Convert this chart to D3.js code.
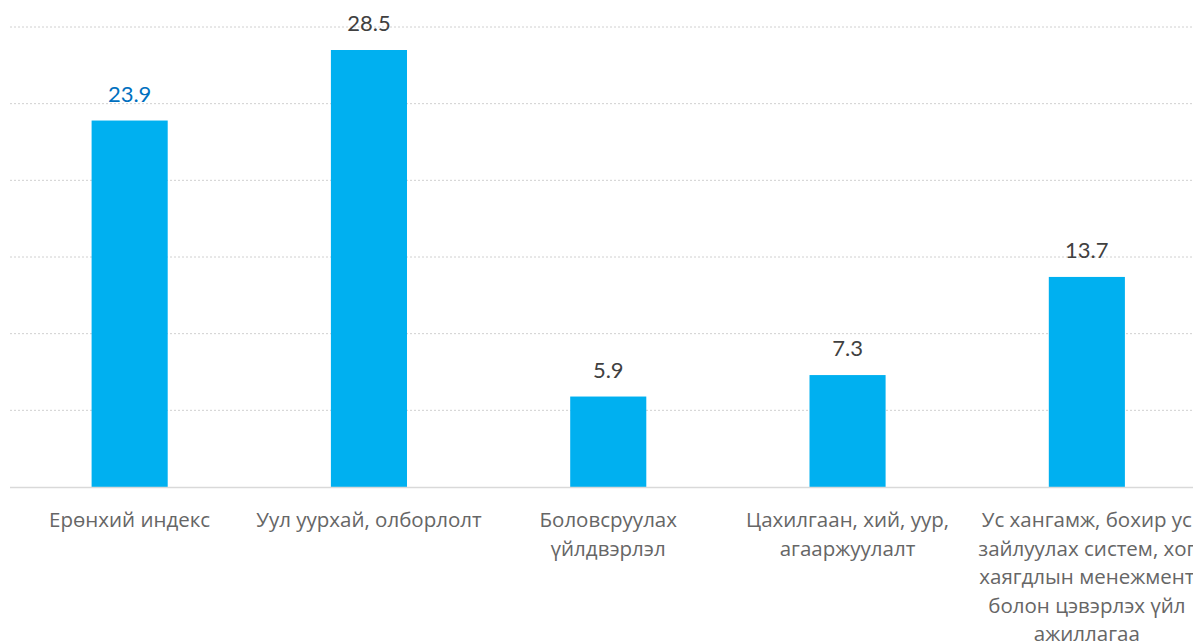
<!DOCTYPE html>
<html>
<head>
<meta charset="utf-8">
<script src="https://cdn.jsdelivr.net/npm/d3@7"></script>
<style>
    body { margin: 0; background: #fff; }
    svg { display: block; overflow: hidden; }
</style>
</head>
<body>
<div id="vis"></div>
<script>
'use strict';

// Chart data
const categories = ["Ерөнхий индекс", "Уул уурхай, олборлолт", "Боловсруулах үйлдвэрлэл",
    "Цахилгаан, хий, уур, агааржуулалт", "Ус хангамж, бохир ус зайлуулах систем, хог хаягдлын менежмент болон цэвэрлэх үйл ажиллагаа"];
const values = [23.9, 28.5, 5.9, 7.3, 13.7];
const labelLines = [
    ["Ерөнхий индекс"],
    ["Уул уурхай, олборлолт"],
    ["Боловсруулах", "үйлдвэрлэл"],
    ["Цахилгаан, хий, уур,", "агааржуулалт"],
    ["Ус хангамж, бохир ус", "зайлуулах систем, хог", "хаягдлын менежмент", "болон цэвэрлэх үйл", "ажиллагаа"]
];
const gridTicks = [5, 10, 15, 20, 25, 30];

const constraints = {
    width: 1193,
    height: 644,
    left: 10,
    plotRight: 1206.5,
    top: 27,
    bottom: 487
};

let svg = d3.select("#vis").append("svg")
    .attr("width", constraints.width)
    .attr("height", constraints.height);

let x = d3.scaleBand()
    .domain(categories)
    .range([constraints.left, constraints.plotRight])
    .paddingInner(0.682)
    .paddingOuter(0.341);

let y = d3.scaleLinear()
    .domain([0, 30])
    .range([constraints.bottom, constraints.top]);

// dotted gridlines
svg.append("g")
    .selectAll("line")
    .data(gridTicks)
    .enter()
    .append("line")
        .attr("x1", constraints.left)
        .attr("x2", constraints.width)
        .attr("y1", (d) => y(d))
        .attr("y2", (d) => y(d))
        .attr("stroke", "#d0d0d0")
        .attr("stroke-width", 1)
        .attr("stroke-dasharray", "2,2");

// bars
svg.append("g")
    .selectAll("rect")
    .data(values)
    .enter()
    .append("rect")
        .attr("x", (d, i) => x(categories[i]))
        .attr("y", (d) => y(d))
        .attr("width", x.bandwidth())
        .attr("height", (d) => y(0) - y(d))
        .attr("fill", "#00B0F0");

// baseline
svg.append("line")
    .attr("x1", constraints.left)
    .attr("x2", constraints.width)
    .attr("y1", y(0) + 0.5)
    .attr("y2", y(0) + 0.5)
    .attr("stroke", "#d9d9d9")
    .attr("stroke-width", 1.5);

// value labels
svg.append("g")
    .selectAll("text")
    .data(values)
    .enter()
    .append("text")
        .attr("x", (d, i) => x(categories[i]) + x.bandwidth() / 2)
        .attr("y", (d) => y(d) - 19)
        .attr("text-anchor", "middle")
        .style("font-family", "Lato, sans-serif")
        .style("font-size", "22px")
        .style("fill", (d, i) => i == 0 ? "#0070C0" : "#404040")
        .text((d) => d.toFixed(1));

// category labels
let cats = svg.append("g")
    .selectAll("text")
    .data(labelLines)
    .enter()
    .append("text")
        .attr("text-anchor", "middle")
        .style("font-family", "'Open Sans', sans-serif")
        .style("font-size", "20.5px")
        .style("fill", "#666666");

cats.selectAll("tspan")
    .data((d, i) => d.map((line) => ({ line: line, i: i })))
    .enter()
    .append("tspan")
        .attr("x", (d) => x(categories[d.i]) + x.bandwidth() / 2)
        .attr("y", (d, j) => y(0) + 40 + j * 28.5)
        .text((d) => d.line);
</script>
</body>
</html>
